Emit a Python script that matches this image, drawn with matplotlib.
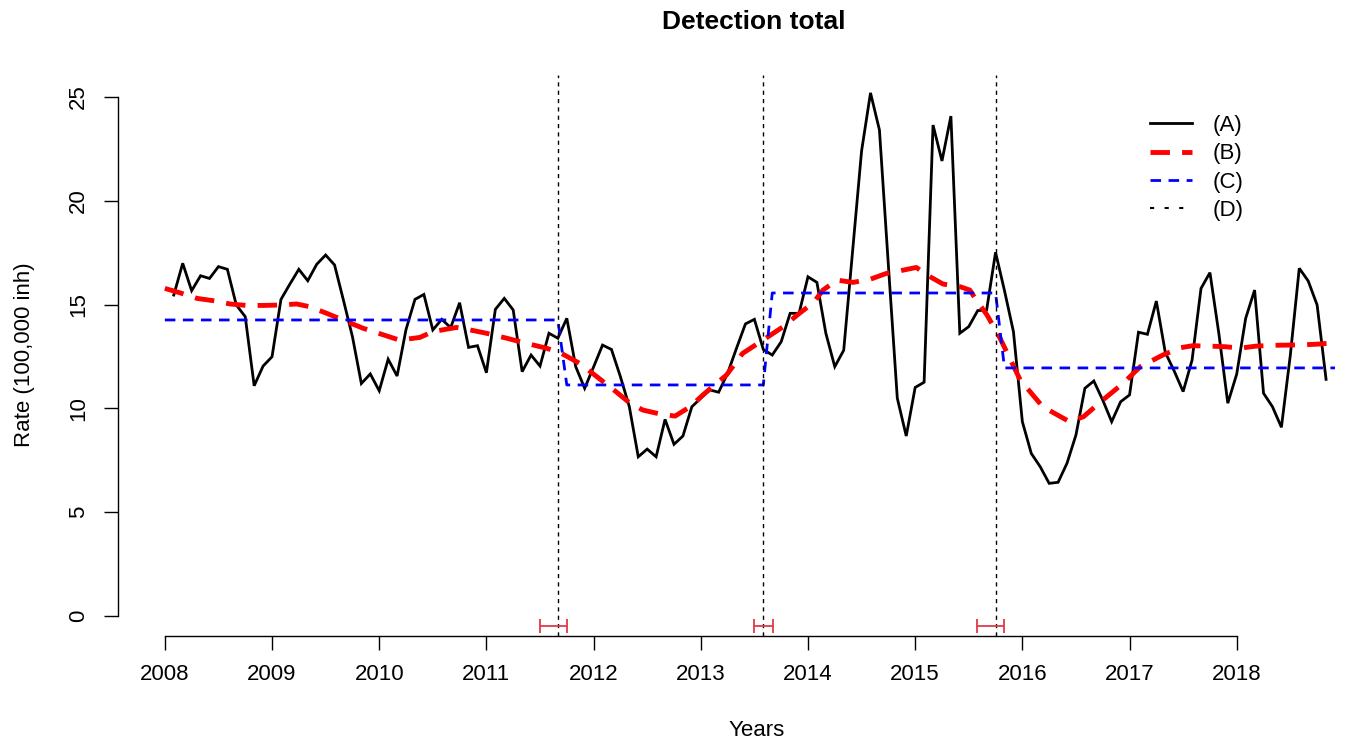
import numpy as np
import matplotlib
matplotlib.use("Agg")
import matplotlib.pyplot as plt
from matplotlib.lines import Line2D

plt.rcParams['font.family'] = ['Liberation Sans', 'DejaVu Sans']

# monthly detection rate, Feb 2008 .. Nov 2018 (A)
start_year = 2008
first_month = 1
rate = [15.46, 16.99, 15.67, 16.39, 16.26, 16.83, 16.70, 14.98, 14.42, 11.09, 12.04,
        12.49, 15.25, 15.99, 16.70, 16.15, 16.94, 17.39, 16.91, 15.2, 13.46, 11.2, 11.66,
        10.85, 12.37, 11.56, 13.8, 15.25, 15.49, 13.78, 14.29, 13.89, 15.09, 12.94, 13.02,
        11.72, 14.77, 15.30, 14.74, 11.77, 12.57, 12.04, 13.62, 13.38, 14.34, 12.01, 10.97,
        12.0, 13.05, 12.84, 11.53, 10.08, 7.67, 8.04, 7.67, 9.47, 8.27, 8.67, 10.08,
        10.49, 10.89, 10.78, 11.69, 12.90, 14.07, 14.29, 12.84, 12.57, 13.21, 14.58, 14.58,
        16.34, 16.07, 13.62, 12.01, 12.8, 17.6, 22.4, 25.2, 23.41, 16.9, 10.49, 8.67,
        11.01, 11.26, 23.65, 21.92, 24.08, 13.62, 13.94, 14.71, 14.74, 17.52, 15.67, 13.70,
        9.36, 7.83, 7.19, 6.39, 6.44, 7.36, 8.72, 10.97, 11.32, 10.40, 9.36, 10.32,
        10.65, 13.67, 13.57, 15.17, 12.7, 11.8, 10.81, 12.33, 15.78, 16.54, 13.6, 10.25,
        11.66, 14.34, 15.70, 10.73, 10.08, 9.09, 12.57, 16.75, 16.14, 14.98, 11.40]

# smoothed trend (B)
trend_years = [2008.0, 2008.14, 2008.30, 2008.45, 2008.61, 2008.76, 2008.92, 2009.07,
               2009.23, 2009.35, 2009.51, 2009.66, 2009.85, 2010.04, 2010.19, 2010.38,
               2010.50, 2010.72, 2010.81, 2011.00, 2011.19, 2011.40, 2011.56, 2011.70,
               2011.87, 2012.03, 2012.21, 2012.34, 2012.46, 2012.62, 2012.76, 2012.90,
               2013.02, 2013.24, 2013.39, 2013.58, 2013.77, 2013.92, 2014.05, 2014.14,
               2014.27, 2014.42, 2014.58, 2014.73, 2014.86, 2015.01, 2015.14, 2015.26,
               2015.42, 2015.51, 2015.56, 2015.67, 2015.79, 2015.98, 2016.19, 2016.44,
               2016.57, 2016.75, 2016.94, 2017.10, 2017.31, 2017.47, 2017.59, 2017.75,
               2017.90, 2018.03, 2018.18, 2018.34, 2018.49, 2018.65, 2018.77, 2018.93]
trend = [15.78, 15.57, 15.3, 15.19, 15.03, 14.96, 14.96, 14.98,
         15.03, 14.9, 14.58, 14.26, 13.86, 13.54, 13.29, 13.42,
         13.7, 13.9, 13.82, 13.62, 13.38, 13.1, 12.9, 12.65,
         12.17, 11.53, 10.8, 10.25, 9.92, 9.73, 9.63, 10.08,
         10.65, 11.61, 12.65, 13.29, 13.94, 14.58, 15.09, 15.7,
         16.18, 16.07, 16.22, 16.5, 16.63, 16.79, 16.34, 15.99,
         15.86, 15.7, 15.3, 14.5, 13.4, 11.37, 10.08, 9.36,
         9.6, 10.4, 11.21, 12.01, 12.57, 12.92, 13.02, 13.0,
         12.97, 12.9, 13.0, 13.04, 13.05, 13.07, 13.1, 13.17]

# segment means (C), breakpoints (D) and their confidence intervals
n_months = 132
break_months = [44, 67, 93]
seg_levels = [14.26, 11.13, 15.56, 11.95]
ci_low = [2011.50, 2013.50, 2015.58]
ci_high = [2011.75, 2013.67, 2015.83]

years = start_year + np.arange(first_month, first_month + len(rate)) / 12
all_months = np.arange(n_months)
seg_idx = np.searchsorted(break_months, all_months, side='left')
seg_line = np.array(seg_levels)[seg_idx]
seg_years = start_year + all_months / 12
bp_years = start_year + np.array(break_months) / 12

W, H = 1345, 742
fig = plt.figure(figsize=(W / 100, H / 100), dpi=100)
ax = fig.add_axes([118 / W, (H - 636) / H, (W - 118) / W, (636 - 75) / H])

ax.plot(years, rate, color='black', lw=2.0, solid_joinstyle='miter')
ax.plot(trend_years, trend, color='red', lw=3.5, dashes=(4, 2.5))
ax.plot(seg_years, seg_line, color='blue', lw=2.0, dashes=(3.8, 2.7))
for bp in bp_years:
    ax.axvline(bp, color='black', lw=1.0, dashes=(3, 3))

xerr = [bp_years - np.array(ci_low), np.array(ci_high) - bp_years]
ax.errorbar(bp_years, [-0.5] * 3, xerr=xerr, fmt='none', ecolor='#DF3A4A',
            elinewidth=1.3, capsize=4.7, capthick=1.3)

ax.set_xlim(2007.563, 2019.01)
ax.set_ylim(-0.963, 26.06)
ax.set_xticks(range(2008, 2019))
ax.set_yticks(range(0, 26, 5))
ax.spines['top'].set_visible(False)
ax.spines['right'].set_visible(False)
ax.spines['bottom'].set_bounds(2008, 2018)
ax.spines['left'].set_bounds(0, 25)
for s in ['bottom', 'left']:
    ax.spines[s].set_linewidth(1.0)
ax.tick_params(length=10, width=1.0, labelsize=16, pad=10)
ax.tick_params(axis='y', labelrotation=90, pad=11)
for lab in ax.get_yticklabels():
    lab.set_va('center')

fig.text(754 / W, 1 - 22 / H, 'Detection total', ha='center', va='center',
         fontsize=19, fontweight='bold')
fig.text(757 / W, 1 - 731 / H, 'Years', ha='center', va='center', fontsize=16)
fig.text(25 / W, 1 - 355 / H, 'Rate (100,000 inh)', ha='center', va='center',
         rotation=90, fontsize=16)

handles = [Line2D([], [], color='black', lw=2.0),
           Line2D([], [], color='red', lw=3.5, dashes=(4, 2.5)),
           Line2D([], [], color='blue', lw=2.0, dashes=(3.8, 2.7)),
           Line2D([], [], color='black', lw=1.5, dashes=(2, 5))]
ax.legend(handles, ['(A)', '(B)', '(C)', '(D)'], loc='upper left',
          bbox_to_anchor=(1150 / W, 1 - 115 / H), bbox_transform=fig.transFigure,
          frameon=False, fontsize=16, handlelength=1.9, handletextpad=0.9,
          labelspacing=0.33, borderpad=0, borderaxespad=0)

fig.savefig('out.png', dpi=100)
